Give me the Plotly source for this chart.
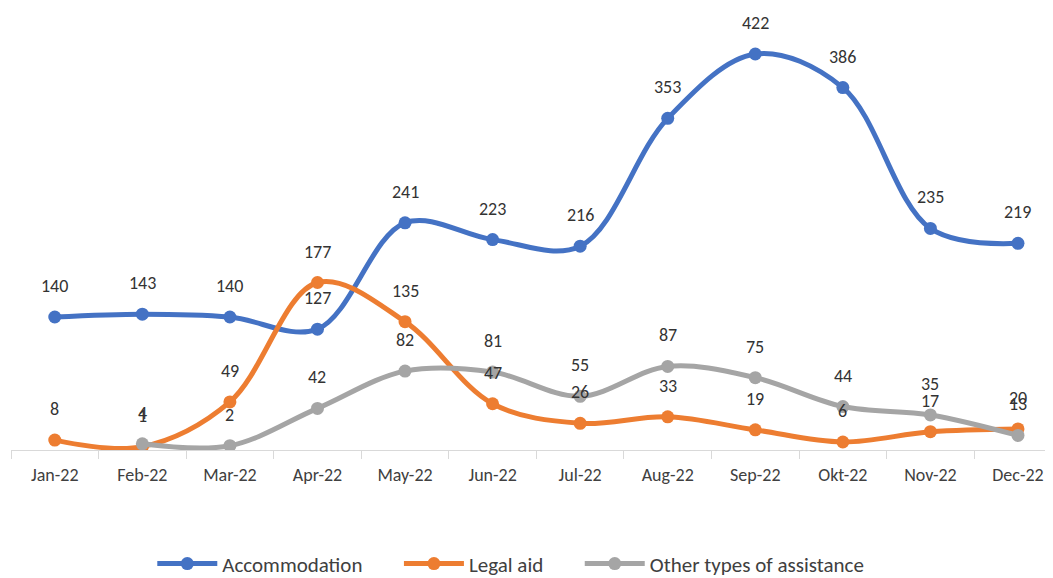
import plotly.graph_objects as go

months = ["Jan-22", "Feb-22", "Mar-22", "Apr-22", "May-22", "Jun-22",
          "Jul-22", "Aug-22", "Sep-22", "Okt-22", "Nov-22", "Dec-22"]
accommodation = [140, 143, 140, 127, 241, 223, 216, 353, 422, 386, 235, 219]
legal_aid = [8, 1, 49, 177, 135, 47, 26, 33, 19, 6, 17, 20]
other = [None, 4, 2, 42, 82, 81, 55, 87, 75, 44, 35, 13]

series = [
    ("Accommodation", accommodation, "#4472C4"),
    ("Legal aid", legal_aid, "#ED7D31"),
    ("Other types of assistance", other, "#A5A5A5"),
]

FONT = "Liberation Sans Narrow, Carlito, Arial Narrow, Lato, sans-serif"

fig = go.Figure()
annotations = []
for name, vals, color in series:
    fig.add_trace(go.Scatter(
        x=months, y=vals, name=name + "\u2003\u2002", mode="lines+markers",
        line=dict(color=color, width=5, shape="spline", smoothing=1.0),
        marker=dict(color=color, size=13),
        connectgaps=False,
    ))
    for m, v in zip(months, vals):
        if v is None:
            continue
        annotations.append(dict(
            x=m, y=v, xref="x", yref="y", text=str(v), showarrow=False,
            yshift=31, yanchor="middle",
            font=dict(family=FONT, size=18, color="#333333"),
        ))

fig.update_layout(
    width=1045, height=578,
    margin=dict(l=3, r=0, t=2, b=136, autoexpand=False),
    paper_bgcolor="white", plot_bgcolor="white",
    showlegend=True,
    legend=dict(orientation="h", x=0.495, xanchor="center", y=-0.259, yanchor="middle",
                font=dict(family=FONT, size=21, color="#404040"),
                itemwidth=60, tracegroupgap=0),
    annotations=annotations,
    font=dict(family=FONT),
)
fig.update_xaxes(
    type="category", range=[-0.5, 11.4], automargin=False,
    showline=True, linecolor="#D9D9D9", linewidth=1,
    ticks="outside", tickson="boundaries", ticklen=8, tickcolor="#D9D9D9",
    ticklabelstandoff=8,
    showgrid=False, zeroline=False,
    tickfont=dict(family=FONT, size=18, color="#404040"),
)
fig.update_yaxes(
    range=[-2.6, 469.2], visible=False, showgrid=False, zeroline=False, automargin=False,
)

fig.write_html("out.html")
